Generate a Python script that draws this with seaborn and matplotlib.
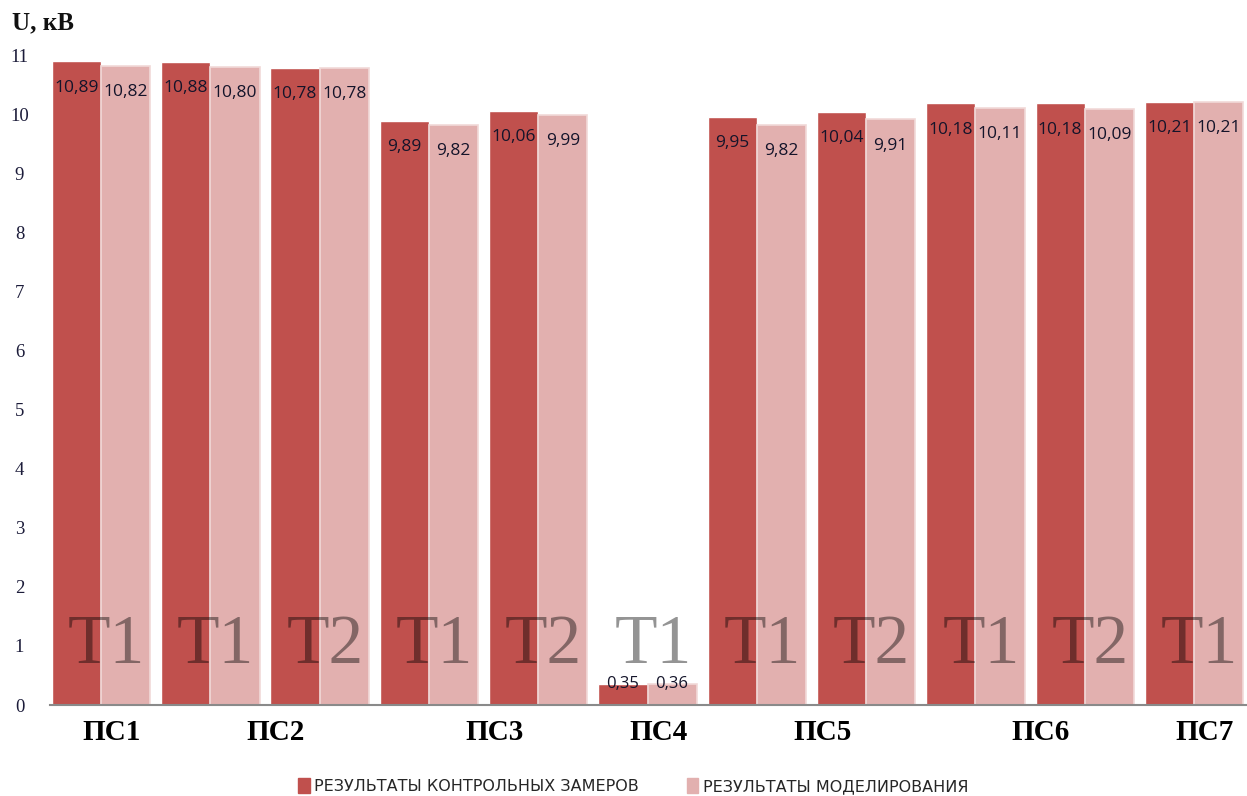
import matplotlib
matplotlib.use("Agg")
import matplotlib.pyplot as plt
import matplotlib.transforms as mtransforms
import numpy as np
import pandas as pd
import seaborn as sns

# Substation / transformer for each bar group
substations = ["ПС1", "ПС2", "ПС2", "ПС3", "ПС3", "ПС4", "ПС5", "ПС5", "ПС6", "ПС6", "ПС7"]
transformers = ["Т1", "Т1", "Т2", "Т1", "Т2", "Т1", "Т1", "Т2", "Т1", "Т2", "Т1"]

# Voltage, kV
measured = [10.89, 10.88, 10.78, 9.89, 10.06, 0.35, 9.95, 10.04, 10.18, 10.18, 10.21]
modeled = [10.82, 10.80, 10.78, 9.82, 9.99, 0.36, 9.82, 9.91, 10.11, 10.09, 10.21]

series_names = ["РЕЗУЛЬТАТЫ КОНТРОЛЬНЫХ ЗАМЕРОВ", "РЕЗУЛЬТАТЫ МОДЕЛИРОВАНИЯ"]
y_ticks = list(range(0, 12))

keys = [f"{s} {t}" for s, t in zip(substations, transformers)]
df = pd.DataFrame({
    "key": keys * 2,
    "value": measured + modeled,
    "series": [series_names[0]] * len(keys) + [series_names[1]] * len(keys),
})

sns.set_theme(style="white")
plt.rcParams["font.family"] = ["DejaVu Sans"]

W, H = 1247, 796
fig = plt.figure(figsize=(W / 100, H / 100), dpi=100)
ax = fig.add_axes([50 / W, 91 / H, 1197 / W, 650 / H])

colors = ["#C0504D", "#E2B0AF"]
sns.barplot(data=df, x="key", y="value", hue="series", order=keys,
            hue_order=series_names, palette=colors, width=0.9, gap=0,
            saturation=1, ax=ax, legend=False)

# soft light rim on the modelled bars
for p in ax.containers[1]:
    p.set_edgecolor("#F1D9D8")
    p.set_linewidth(1.2)

ax.set_xlim(-0.467, 10.485)
ax.set_ylim(0, 11)
ax.set_xlabel("")
ax.set_ylabel("")
ax.set_xticks([])
ax.set_yticks(y_ticks)
ax.set_yticklabels([str(v) for v in y_ticks], family="Liberation Serif",
                   fontsize=13.5, color="#1c1c3a")
for lbl in ax.get_yticklabels():
    lbl.set_horizontalalignment("center")
ax.tick_params(axis="y", length=0, pad=22)

for side in ["left", "right", "top"]:
    ax.spines[side].set_visible(False)
ax.spines["bottom"].set_color("#8a8a8a")
ax.spines["bottom"].set_linewidth(1.5)

# value labels
for cont in ax.containers:
    for p in cont:
        h = p.get_height()
        xc = p.get_x() + p.get_width() / 2
        txt = f"{h:.2f}".replace(".", ",")
        if h > 1:
            ax.annotate(txt, (xc, h), xytext=(0, -19), textcoords="offset points",
                        ha="center", va="center", fontsize=12.5,
                        family="Open Sans", color="#14142a")
        else:
            ax.annotate(txt, (xc, h), xytext=(0, 0), textcoords="offset points",
                        ha="center", va="center", fontsize=12,
                        family="Open Sans", color="#14142a")

# transformer labels on the bars
for i, t in enumerate(transformers):
    ax.text(i + 0.05, 0.71, t, ha="center", va="baseline", fontsize=50,
            family="Liberation Serif", color="black", alpha=0.42)

# substation labels below the axis
trans = mtransforms.blended_transform_factory(ax.transData, ax.transAxes)
for s in dict.fromkeys(substations):
    idx = [i for i, v in enumerate(substations) if v == s]
    ax.text(np.mean(idx) + 0.1, -0.042, s, transform=trans, ha="center",
            va="center", fontsize=21, fontweight="bold",
            family="Liberation Serif", color="black")

fig.text(12 / W, 1 - 23 / H, "U, кВ", ha="left", va="center", fontsize=18,
         fontweight="bold", family="Liberation Serif", color="#111111")

handles = [plt.Rectangle((0, 0), 1, 1, color=c) for c in colors]
fig.legend(handles, series_names, loc="center", bbox_to_anchor=(0.508, 1 - 786 / H),
           ncol=2, frameon=False, handlelength=0.7, handleheight=1.1,
           handletextpad=0.3, columnspacing=3.0,
           prop={"family": ["Liberation Sans Narrow", "DejaVu Sans"], "size": 11.5})

fig.savefig("out.png", dpi=100)
